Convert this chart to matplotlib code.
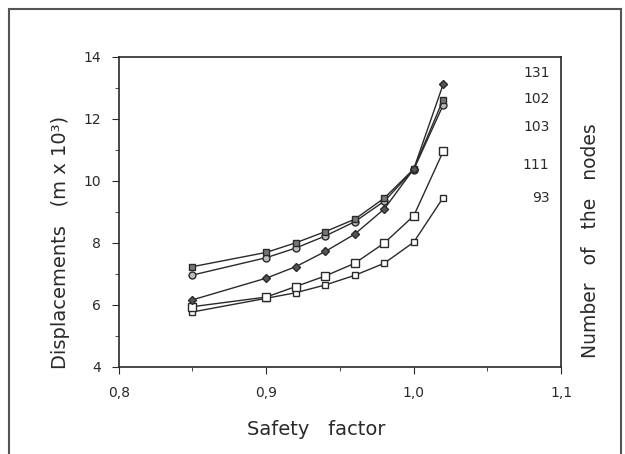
import matplotlib
matplotlib.use('Agg')
import matplotlib.pyplot as plt
from matplotlib.patches import Rectangle

# safety factor values
sf = [0.85, 0.90, 0.92, 0.94, 0.96, 0.98, 1.00, 1.02]

# displacements (m x 10^3) per number of nodes
d131 = [6.16, 6.86, 7.23, 7.72, 8.28, 9.09, 10.38, 13.12]
d102 = [7.23, 7.69, 8.00, 8.36, 8.76, 9.44, 10.38, 12.62]
d103 = [6.96, 7.52, 7.83, 8.22, 8.68, 9.34, 10.36, 12.45]
d111 = [5.94, 6.25, 6.59, 6.93, 7.34, 7.99, 8.87, 10.95]
d93 = [5.77, 6.21, 6.39, 6.64, 6.95, 7.34, 8.02, 9.46]

node_labels = ['131', '102', '103', '111', '93']
label_y = [13.48, 12.64, 11.73, 10.50, 9.44]

xticks = [0.8, 0.9, 1.0, 1.1]
xtick_labels = ['0,8', '0,9', '1,0', '1,1']
yticks = [4, 6, 8, 10, 12, 14]

fig = plt.figure(figsize=(6.25, 4.54), dpi=100)
ax = fig.add_axes([0.19, 0.192, 0.708, 0.683])

ink = '#2a2a2a'
ax.plot(sf, d93, color=ink, lw=1, marker='s', ms=5, mfc='white', mec=ink)
ax.plot(sf, d111, color=ink, lw=1, marker='s', ms=5.5, mfc='white', mec=ink)
ax.plot(sf, d103, color=ink, lw=1, marker='o', ms=5, mfc='#bbbbbb', mec=ink)
ax.plot(sf, d102, color=ink, lw=1, marker='s', ms=5, mfc='#777777', mec=ink)
ax.plot(sf, d131, color=ink, lw=1, marker='D', ms=4, mfc='#555555', mec=ink)

for lab, yy in zip(node_labels, label_y):
    ax.text(1.092, yy, lab, ha='right', va='center', fontsize=10, color=ink)

ax.set_xlim(0.8, 1.1)
ax.set_ylim(4, 14)
ax.set_xticks(xticks)
ax.set_xticklabels(xtick_labels)
ax.set_xticks([0.85, 0.95, 1.05], minor=True)
ax.set_yticks(yticks)
ax.set_yticks([5, 7, 9, 11, 13], minor=True)
ax.tick_params(which='major', direction='out', length=5, labelsize=10, colors=ink)
ax.tick_params(axis='x', which='major', pad=9)
ax.tick_params(axis='y', which='major', pad=8)
ax.tick_params(which='minor', direction='out', length=3, colors=ink)
for s in ax.spines.values():
    s.set_color(ink)
    s.set_linewidth(1.2)

ax.set_xlabel('Safety   factor', fontsize=14, color=ink)
ax.xaxis.set_label_coords(0.447, -0.17)
ax.set_ylabel('Displacements   (m x 10³)', fontsize=14, color=ink)
ax.yaxis.set_label_coords(-0.11, 0.40)
fig.text(0.945, 0.47, 'Number   of   the   nodes', rotation=90, ha='center', va='center',
         fontsize=13.5, color=ink)

# outer frame around the figure
fig.patches.append(Rectangle((0.015, -0.05), 0.978, 1.03, transform=fig.transFigure,
                             fill=False, edgecolor='#555555', lw=1.5))

fig.savefig('out.png', dpi=100)
